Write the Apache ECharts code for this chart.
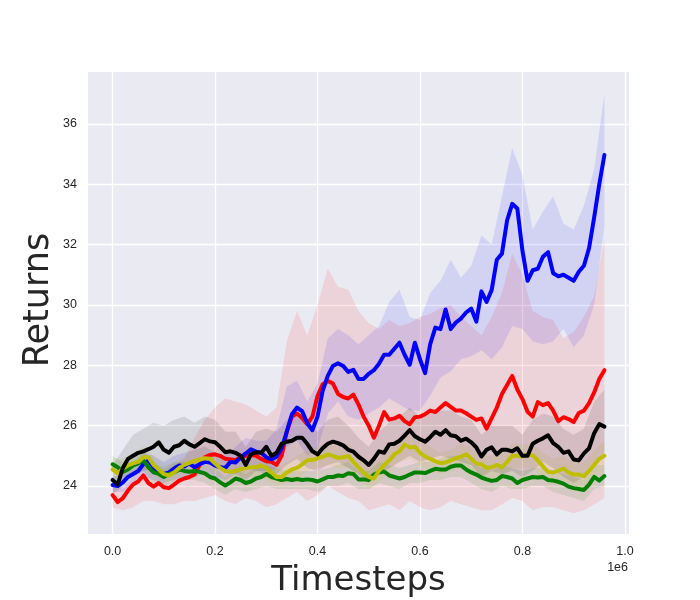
<!DOCTYPE html>
<html>
<head>
<meta charset="utf-8">
<script src="https://cdn.jsdelivr.net/npm/echarts@6/dist/echarts.min.js"></script>
<style>html,body{margin:0;padding:0;background:#fff;}#c{width:700px;height:600px;}</style>
</head>
<body>
<div id="c"></div>
<script>
// Timesteps (in units of 1e6)
const steps = [0.00,0.01,0.02,0.03,0.04,0.05,0.06,0.07,0.08,0.09,0.10,0.11,0.12,0.13,0.14,0.15,0.16,0.17,0.18,0.19,0.20,0.21,0.22,0.23,0.24,0.25,0.26,0.27,0.28,0.29,0.30,0.31,0.32,0.33,0.34,0.35,0.36,0.37,0.38,0.39,0.40,0.41,0.42,0.43,0.44,0.45,0.46,0.47,0.48,0.49,0.50,0.51,0.52,0.53,0.54,0.55,0.56,0.57,0.58,0.59,0.60,0.61,0.62,0.63,0.64,0.65,0.66,0.67,0.68,0.69,0.70,0.71,0.72,0.73,0.74,0.75,0.76,0.77,0.78,0.79,0.80,0.81,0.82,0.83,0.84,0.85,0.86,0.87,0.88,0.89,0.90,0.91,0.92,0.93,0.94,0.95,0.96];
const bandSteps = [0.00,0.02,0.04,0.06,0.08,0.10,0.12,0.14,0.16,0.18,0.20,0.22,0.24,0.26,0.28,0.30,0.32,0.34,0.36,0.38,0.40,0.42,0.44,0.46,0.48,0.50,0.52,0.54,0.56,0.58,0.60,0.62,0.64,0.66,0.68,0.70,0.72,0.74,0.76,0.78,0.80,0.82,0.84,0.86,0.88,0.90,0.92,0.94,0.96];

const blueMean = [24.03,24.0,24.12,24.3,24.4,24.5,24.72,24.85,24.62,24.45,
  24.4,24.45,24.58,24.68,24.65,24.75,24.62,24.72,24.8,24.78,
  24.68,24.62,24.6,24.8,24.78,24.95,25.08,25.22,25.14,25.1,
  24.95,24.88,24.97,25.25,25.8,26.38,26.6,26.48,26.08,25.85,
  26.3,27.15,27.65,27.98,28.07,27.98,27.78,27.85,27.55,27.55,
  27.72,27.84,28.05,28.35,28.35,28.55,28.75,28.35,28.02,28.75,
  28.2,27.74,28.7,29.25,29.2,29.85,29.2,29.42,29.55,29.75,
  29.88,29.45,30.45,30.1,30.5,31.5,31.7,32.8,33.35,33.2,
  31.8,30.8,31.15,31.2,31.6,31.75,31.05,30.95,31.0,30.9,
  30.8,31.1,31.3,31.88,32.9,34.0,34.97];
const redMean = [23.7,23.47,23.6,23.85,24.05,24.15,24.35,24.1,23.98,24.1,
  23.96,23.93,24.05,24.18,24.25,24.3,24.38,24.7,24.95,25.03,
  25.05,25.0,24.9,24.88,24.86,24.95,25.0,25.03,25.0,24.9,
  24.82,24.8,24.7,25.0,25.8,26.3,26.4,26.25,26.05,26.3,
  26.98,27.37,27.48,27.4,27.05,26.95,26.9,27.03,26.7,26.3,
  26.0,25.6,26.0,26.45,26.2,26.24,26.33,26.15,26.05,26.28,
  26.3,26.38,26.5,26.45,26.6,26.75,26.62,26.5,26.5,26.41,
  26.3,26.19,26.24,25.9,26.25,26.6,27.05,27.35,27.65,27.2,
  26.88,26.46,26.3,26.78,26.68,26.75,26.5,26.15,26.28,26.22,
  26.12,26.42,26.5,26.75,27.1,27.55,27.84];
const blackMean = [24.2,24.05,24.6,24.9,25.0,25.1,25.15,25.22,25.3,25.45,
  25.2,25.1,25.3,25.35,25.5,25.38,25.3,25.42,25.55,25.48,
  25.45,25.3,25.12,25.15,25.1,25.0,24.7,25.05,25.12,25.1,
  25.3,25.0,25.1,25.4,25.47,25.5,25.6,25.6,25.4,25.15,
  25.05,25.25,25.4,25.47,25.42,25.35,25.2,25.14,24.97,24.85,
  24.7,24.9,25.15,25.1,25.38,25.4,25.5,25.67,25.85,25.65,
  25.55,25.47,25.62,25.8,25.7,25.85,25.68,25.65,25.5,25.57,
  25.45,25.28,24.98,25.2,25.28,25.05,25.2,25.2,25.15,25.25,
  25.0,25.0,25.4,25.5,25.58,25.68,25.42,25.3,25.1,25.15,
  24.88,24.85,25.08,25.25,25.75,26.05,25.97];
const yellowMean = [24.55,24.42,24.58,24.68,24.75,24.8,24.95,24.95,24.7,24.55,
  24.4,24.35,24.45,24.6,24.7,24.77,24.83,24.88,24.92,24.9,
  24.75,24.6,24.5,24.47,24.5,24.55,24.6,24.62,24.62,24.68,
  24.6,24.45,24.3,24.3,24.45,24.55,24.6,24.72,24.85,24.86,
  24.92,24.97,25.05,25.0,24.93,24.95,25.0,24.8,24.62,24.45,
  24.3,24.25,24.5,24.7,24.85,25.05,25.15,25.38,25.28,25.3,
  25.1,24.98,24.9,24.82,24.76,24.78,24.85,24.92,24.97,25.05,
  24.9,24.75,24.72,24.6,24.62,24.7,24.62,24.8,25.0,25.0,
  24.98,25.05,25.02,24.85,24.65,24.47,24.45,24.5,24.58,24.45,
  24.38,24.38,24.32,24.5,24.7,24.9,25.0];
const greenMean = [24.72,24.62,24.47,24.55,24.68,24.75,24.85,24.62,24.45,24.4,
  24.3,24.4,24.45,24.55,24.5,24.47,24.5,24.47,24.42,24.3,
  24.25,24.12,24.02,24.12,24.25,24.2,24.1,24.15,24.25,24.3,
  24.4,24.3,24.25,24.2,24.23,24.2,24.23,24.2,24.22,24.2,
  24.15,24.22,24.3,24.3,24.35,24.33,24.42,24.4,24.22,24.22,
  24.2,24.38,24.45,24.48,24.35,24.3,24.25,24.3,24.38,24.45,
  24.45,24.43,24.5,24.57,24.55,24.55,24.64,24.68,24.68,24.55,
  24.45,24.38,24.28,24.22,24.17,24.2,24.33,24.3,24.25,24.1,
  24.2,24.25,24.3,24.28,24.3,24.2,24.18,24.14,24.08,23.98,
  23.93,23.9,23.87,24.05,24.3,24.18,24.33];

const blueLo = [23.8,23.8,24.0,24.3,24.2,24.1,24.2,24.3,24.3,24.4,24.3,24.2,24.4,24.6,24.5,24.4,24.6,25.3,25.5,25.0,25.2,26.4,26.8,26.3,26.2,26.4,26.6,26.9,26.7,26.5,26.5,27.0,27.6,27.8,28.2,28.3,28.5,28.2,28.6,29.3,29.2,28.8,28.7,28.8,29.2,28.6,29.0,30.0,32.6];
const blueHi = [24.3,24.4,24.7,25.1,25.0,24.8,25.0,25.1,25.2,25.3,25.1,25.0,25.3,25.6,25.5,25.5,25.9,27.3,27.5,26.8,27.4,28.9,29.2,29.0,28.7,29.0,29.3,30.1,30.5,29.6,29.5,30.4,30.8,31.5,30.9,31.3,32.3,32.0,33.6,35.2,34.3,32.5,33.1,33.6,32.7,32.5,33.3,34.5,37.0];
const redLo = [23.3,23.2,23.3,23.5,23.5,23.4,23.4,23.5,23.5,23.6,23.7,23.5,23.4,23.6,23.5,23.3,23.4,23.6,23.8,23.5,23.7,24.0,23.8,23.6,23.5,23.2,23.3,23.4,23.2,23.5,23.3,23.2,23.3,23.5,23.4,23.3,23.2,23.2,23.4,23.6,23.5,23.2,23.3,23.3,23.2,23.1,23.2,23.4,23.6];
const redHi = [24.1,23.9,24.3,24.9,24.7,24.5,24.7,24.9,25.6,26.2,26.6,26.9,26.8,26.7,26.5,26.3,26.6,28.8,29.8,29.0,30.0,31.2,30.6,30.5,29.8,29.4,29.2,29.5,29.3,29.4,29.6,29.7,29.9,30.0,29.6,29.3,29.0,29.6,30.4,31.7,31.0,29.8,29.6,29.5,28.9,29.1,29.6,30.3,32.2];
const blackLo = [23.7,24.0,24.4,24.5,24.6,24.5,24.6,24.7,24.6,24.8,24.7,24.5,24.4,24.2,24.5,24.5,24.4,24.7,24.9,24.6,24.5,24.7,24.8,24.6,24.4,24.1,24.4,24.6,24.8,25.0,24.8,24.9,25.0,24.9,24.8,24.7,24.3,24.5,24.4,24.5,24.3,24.5,24.8,24.6,24.3,24.1,24.3,24.7,25.1];
const blackHi = [24.7,25.2,25.7,25.9,26.1,26.0,26.2,26.3,26.1,26.3,26.2,25.8,25.8,25.3,25.8,25.9,25.8,26.2,26.4,26.1,25.8,26.2,26.3,26.0,25.6,25.3,25.8,26.1,26.3,26.6,26.3,26.4,26.5,26.5,26.3,26.2,25.7,26.0,26.0,26.0,25.7,26.2,26.4,26.3,25.9,25.7,25.9,26.8,27.2];
const yellowLo = [24.2,24.3,24.5,24.6,24.4,24.1,24.2,24.4,24.5,24.6,24.4,24.2,24.2,24.3,24.3,24.2,24.0,24.1,24.2,24.5,24.6,24.7,24.6,24.6,24.3,23.9,24.1,24.5,24.8,24.9,24.7,24.5,24.4,24.5,24.6,24.5,24.3,24.2,24.2,24.6,24.6,24.6,24.2,24.0,24.1,24.0,23.9,24.2,24.5];
const yellowHi = [24.9,24.9,25.1,25.3,25.0,24.7,24.8,25.0,25.2,25.3,25.1,24.8,24.8,24.9,25.0,24.9,24.6,24.8,25.0,25.2,25.3,25.4,25.3,25.4,25.0,24.7,24.9,25.2,25.5,25.7,25.5,25.3,25.1,25.2,25.4,25.3,25.1,25.0,25.1,25.4,25.4,25.4,25.1,24.9,25.0,24.8,24.8,25.2,25.5];
const greenLo = [24.5,24.2,24.3,24.5,24.1,24.0,24.1,24.2,24.2,24.1,23.9,23.7,23.9,23.8,23.9,24.0,23.9,23.9,23.9,23.9,23.8,24.0,24.0,24.1,23.9,23.9,24.1,24.0,23.9,24.1,24.1,24.2,24.2,24.3,24.3,24.1,23.9,23.8,24.0,23.9,23.9,24.0,24.0,23.8,23.7,23.6,23.5,23.9,24.0];
const greenHi = [25.0,24.8,25.0,25.2,24.8,24.6,24.8,24.8,24.8,24.7,24.6,24.3,24.6,24.4,24.6,24.7,24.6,24.5,24.5,24.5,24.5,24.6,24.7,24.8,24.5,24.5,24.8,24.7,24.6,24.7,24.8,24.8,24.9,25.0,25.0,24.8,24.6,24.5,24.7,24.6,24.5,24.6,24.6,24.5,24.4,24.3,24.2,24.7,24.7];

const TICK_FONT = '"Liberation Sans", Arial, sans-serif';
const TITLE_FONT = '"DejaVu Sans", sans-serif';

function band(lo, hi, color) {
  return {
    type: 'custom',
    silent: true,
    animation: false,
    clip: true,
    z: 1,
    data: bandSteps.map((x, i) => [x, lo[i], hi[i]]),
    encode: { x: 0, y: [1, 2] },
    renderItem: function (params, api) {
      if (params.dataIndex !== 0) return null;
      const pts = [];
      for (let i = 0; i < bandSteps.length; i++) pts.push(api.coord([bandSteps[i], hi[i]]));
      for (let i = bandSteps.length - 1; i >= 0; i--) pts.push(api.coord([bandSteps[i], lo[i]]));
      return { type: 'polygon', shape: { points: pts }, style: { fill: color } };
    }
  };
}
function line(vals, color, z) {
  return {
    type: 'line',
    data: steps.map((x, i) => [x, vals[i]]),
    showSymbol: false,
    symbol: 'none',
    silent: true,
    animation: false,
    z: z,
    lineStyle: { color: color, width: 4, join: 'round', cap: 'round' },
    itemStyle: { color: color }
  };
}

const chart = echarts.init(document.getElementById('c'), null, { renderer: 'canvas' });
chart.setOption({
  backgroundColor: '#ffffff',
  animation: false,
  grid: { left: 88, top: 72, width: 541, height: 462, show: true, backgroundColor: '#EAEAF2', borderWidth: 0, containLabel: false },
  xAxis: {
    type: 'value', min: -0.048, max: 1.008, splitNumber: 5,
    axisLine: { show: false }, axisTick: { show: false },
    splitLine: { show: true, showMinLine: false, showMaxLine: false, lineStyle: { color: '#ffffff', width: 1.3 } },
    axisLabel: {
      margin: 11, fontSize: 12.5, color: '#262626', fontFamily: TICK_FONT,
      showMinLabel: false, showMaxLabel: false,
      formatter: function (v) { const r = Math.round(v * 5) / 5; return Math.abs(v - r) < 1e-6 ? r.toFixed(1) : ''; }
    }
  },
  yAxis: {
    type: 'value', min: 22.41, max: 37.72, splitNumber: 7,
    axisLine: { show: false }, axisTick: { show: false },
    splitLine: { show: true, showMinLine: false, showMaxLine: false, lineStyle: { color: '#ffffff', width: 1.3 } },
    axisLabel: {
      margin: 11, fontSize: 12.5, color: '#262626', fontFamily: TICK_FONT,
      showMinLabel: false, showMaxLabel: false,
      formatter: function (v) { const r = Math.round(v); return Math.abs(v - r) < 1e-6 ? String(r) : ''; }
    }
  },
  graphic: [
    { type: 'text', x: 358.5, y: 581, style: { text: 'Timesteps', font: '34px ' + TITLE_FONT, fill: '#262626', textAlign: 'center', textVerticalAlign: 'middle' } },
    { type: 'text', x: 39, y: 300, rotation: Math.PI / 2, style: { text: 'Returns', font: '35px ' + TITLE_FONT, fill: '#262626', textAlign: 'center', textVerticalAlign: 'middle' } },
    { type: 'text', x: 628, y: 568, style: { text: '1e6', font: '12.5px ' + TICK_FONT, fill: '#262626', textAlign: 'right', textVerticalAlign: 'middle' } }
  ],
  series: [
    band(redLo, redHi, 'rgba(255,0,0,0.1)'),
    band(blueLo, blueHi, 'rgba(0,0,255,0.1)'),
    band(greenLo, greenHi, 'rgba(0,128,0,0.1)'),
    band(yellowLo, yellowHi, 'rgba(191,191,0,0.1)'),
    band(blackLo, blackHi, 'rgba(0,0,0,0.1)'),
    line(redMean, '#ff0000', 2),
    line(blueMean, '#0000ff', 3),
    line(greenMean, '#008000', 4),
    line(yellowMean, '#bfbf00', 5),
    line(blackMean, '#000000', 6)
  ]
});
</script>
</body>
</html>
